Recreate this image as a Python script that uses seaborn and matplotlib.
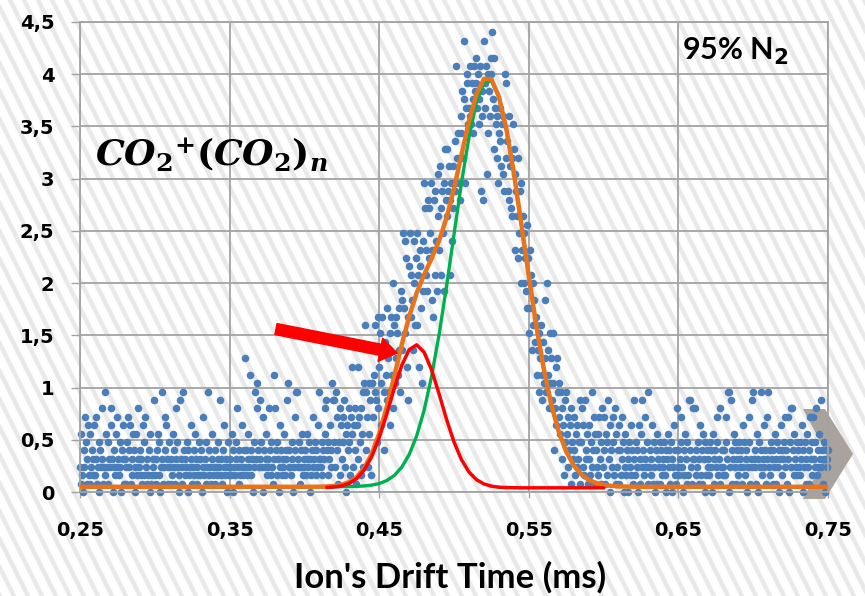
import numpy as np
import pandas as pd
import matplotlib
matplotlib.use("Agg")
import matplotlib.pyplot as plt
import seaborn as sns
from matplotlib.lines import Line2D
from matplotlib.patches import Polygon

# ---------------- data ----------------
# measured signal: one sample every 0.0005 ms from 0.25 ms, values quantised
# in steps of 0.08 (stored as integer step counts)
X_START = 0.25
X_STEP = 0.0005
LEVEL_STEP = 0.08

levels_left = [  # 0.250 .. 0.4195
    3, 1, 7, 2, 0, 5, 3, 9, 6, 1, 4, 8, 2, 7, 1, 3, 5, 2, 4, 8,
    2, 4, 9, 1, 3, 6, 0, 5, 3, 10, 4, 1, 3, 12, 2, 7, 3, 6, 1, 4,
    3, 8, 10, 4, 0, 3, 5, 2, 7, 3, 9, 4, 2, 6, 3, 0, 5, 8, 4, 1,
    4, 3, 1, 6, 9, 5, 3, 8, 1, 4, 2, 7, 5, 0, 3, 7, 2, 4, 10, 3,
    5, 2, 4, 1, 8, 6, 2, 9, 3, 1, 4, 2, 5, 0, 7, 1, 2, 4, 3, 11,
    2, 4, 1, 5, 7, 2, 6, 0, 3, 12, 4, 1, 3, 5, 9, 8, 4, 1, 3, 6,
    3, 1, 4, 2, 7, 3, 5, 1, 10, 4, 6, 3, 0, 2, 11, 4, 3, 1, 12, 5,
    2, 4, 3, 6, 0, 5, 2, 3, 8, 4, 1, 3, 5, 2, 7, 4, 1, 3, 2, 6,
    4, 2, 5, 0, 3, 9, 2, 4, 6, 1, 3, 12, 2, 5, 3, 1, 4, 7, 2, 3,
    1, 5, 3, 2, 4, 6, 3, 11, 2, 4, 1, 5, 3, 8, 2, 4, 0, 3, 6, 2,
    3, 4, 2, 7, 0, 5, 3, 2, 6, 4, 10, 3, 1, 5, 2, 4, 3, 8, 2, 5,
    16, 3, 5, 2, 4, 7, 3, 14, 2, 5, 4, 0, 6, 3, 12, 4, 13, 10, 5, 3,
    4, 11, 6, 3, 9, 0, 5, 3, 4, 7, 2, 4, 3, 10, 5, 2, 6, 3, 1, 4,
    14, 10, 5, 2, 6, 4, 0, 3, 8, 5, 2, 4, 3, 7, 2, 5, 4, 11, 13, 3,
    5, 3, 2, 6, 4, 0, 3, 9, 5, 12, 12, 4, 3, 6, 1, 5, 3, 7, 2, 4,
    3, 5, 2, 4, 7, 3, 6, 0, 4, 2, 5, 9, 3, 4, 6, 2, 5, 3, 8, 4,
    12, 4, 3, 6, 2, 5, 4, 7, 10, 11, 5, 2, 6, 4, 8, 3, 5, 13, 11, 6,
]

levels_peak = [  # 0.420 .. 0.5995
    11, 3, 12, 5, 9, 1, 6, 10, 2, 8,
    4, 9, 6, 11, 3, 7, 0, 8, 5, 10,
    6, 2, 9, 7, 15, 3, 8, 5, 10, 1,
    8, 15, 4, 9, 6, 2, 10, 7, 3, 12,
    13, 20, 5, 12, 9, 3, 13, 7, 11, 2,
    13, 13, 9, 14, 20, 12, 11, 6, 21, 10,
    15, 19, 8, 13, 21, 17, 12, 5, 18, 14,
    22, 11, 16, 12, 19, 8, 21, 14, 25, 10,
    20, 13, 16, 21, 19, 14, 22, 17, 12, 24,
    23, 17, 31, 22, 19, 30, 28, 15, 21, 11,
    27, 31, 21, 26, 23, 17, 30, 25, 20, 28,
    20, 31, 26, 15, 29, 27, 22, 13, 30, 24,
    37, 34, 26, 29, 24, 35, 28, 34, 31, 37,
    23, 29, 21, 35, 26, 36, 30, 24, 38, 33,
    29, 39, 34, 26, 36, 31, 37, 24, 41, 35,
    41, 33, 36, 39, 26, 35, 37, 30, 39, 34,
    37, 42, 36, 51, 40, 43, 37, 40, 35, 45,
    43, 48, 40, 47, 54, 37, 46, 49, 50, 44,
    46, 45, 51, 44, 49, 47, 43, 51, 48, 52,
    49, 46, 50, 44, 47, 51, 36, 45, 48, 35,
    54, 49, 46, 51, 38, 50, 43, 48, 45, 52,
    50, 55, 47, 52, 41, 46, 44, 40, 45, 37,
    43, 46, 42, 39, 44, 38, 45, 36, 50, 40,
    49, 42, 36, 45, 35, 39, 34, 40, 33, 44,
    41, 38, 29, 36, 33, 28, 40, 31, 36, 25,
    37, 29, 33, 25, 31, 28, 24, 32, 22, 28,
    19, 29, 22, 26, 17, 25, 20, 23, 18, 21,
    20, 14, 17, 19, 12, 16, 20, 11, 14, 18,
    13, 23, 16, 12, 25, 14, 17, 10, 19, 13,
    16, 11, 19, 13, 5, 10, 15, 8, 16, 12,
    9, 13, 7, 12, 4, 10, 8, 2, 11, 6,
    12, 7, 3, 9, 5, 8, 1, 10, 6, 4,
    9, 5, 2, 7, 3, 8, 4, 6, 1, 11,
    6, 10, 3, 8, 2, 11, 5, 4, 7, 1,
    4, 8, 2, 6, 12, 3, 5, 9, 1, 7,
    5, 3, 7, 2, 9, 4, 6, 1, 10, 3,
]

levels_right = [  # 0.600 .. 0.750
    5, 9, 1, 7, 2, 6, 11, 4, 8, 0, 5, 3, 9, 6, 2, 10, 1, 7, 3, 5,
    8, 1, 5, 2, 9, 4, 6, 0, 3, 7, 2, 5, 0, 4, 6, 3, 8, 2, 5, 1,
    11, 4, 2, 6, 3, 5, 0, 8, 4, 1, 7, 3, 11, 5, 2, 4, 9, 3, 6, 1,
    12, 3, 5, 2, 4, 8, 1, 6, 3, 0, 5, 1, 7, 4, 3, 6, 1, 5, 2, 4,
    3, 6, 2, 5, 0, 4, 7, 3, 5, 1, 6, 0, 4, 3, 8, 2, 5, 1, 10, 3,
    5, 2, 4, 6, 9, 3, 0, 5, 2, 7, 4, 1, 6, 2, 11, 5, 11, 3, 1, 4,
    10, 4, 10, 2, 5, 3, 6, 1, 4, 8, 2, 5, 1, 7, 4, 0, 6, 2, 5, 3,
    4, 2, 6, 3, 5, 0, 7, 4, 1, 5, 3, 6, 9, 2, 4, 1, 10, 3, 5, 2,
    3, 5, 2, 6, 9, 4, 12, 0, 12, 3, 11, 5, 1, 4, 7, 3, 6, 1, 5, 4,
    2, 6, 4, 3, 5, 1, 8, 3, 6, 2, 4, 5, 0, 3, 9, 6, 1, 4, 11, 3,
    12, 4, 3, 5, 1, 7, 4, 0, 6, 3, 12, 5, 2, 4, 8, 3, 5, 1, 9, 4,
    12, 3, 5, 2, 6, 4, 1, 5, 3, 7, 1, 4, 6, 3, 5, 0, 4, 8, 2, 5,
    4, 6, 9, 3, 5, 1, 9, 4, 0, 6, 10, 3, 10, 5, 2, 7, 4, 3, 6, 2,
    5, 3, 6, 2, 4, 8, 0, 5, 3, 6, 1, 4, 7, 3, 5, 1, 9, 4, 2, 6,
    9, 4, 3, 6, 10, 2, 5, 3, 7, 4, 11, 3, 5, 1, 6, 4, 0, 5, 3, 4,
    5,
]

# fitted curves
curve_x = [0.25,
           0.400, 0.405, 0.410, 0.415, 0.420, 0.425, 0.430, 0.435, 0.440, 0.445,
           0.450, 0.455, 0.460, 0.465, 0.470, 0.475, 0.480, 0.485, 0.490, 0.495,
           0.500, 0.505, 0.510, 0.515, 0.520, 0.525, 0.530, 0.535, 0.540, 0.545,
           0.550, 0.555, 0.560, 0.565, 0.570, 0.575, 0.580, 0.585, 0.590, 0.595,
           0.600, 0.605, 0.610, 0.615, 0.620, 0.625,
           0.75]
green_y = [0.050,
           0.050, 0.050, 0.050, 0.050, 0.050, 0.051, 0.052, 0.054, 0.058, 0.066,
           0.081, 0.109, 0.157, 0.236, 0.357, 0.535, 0.781, 1.105, 1.505, 1.968,
           2.466, 2.959, 3.397, 3.730, 3.918, 3.936, 3.781, 3.473, 3.052, 2.566,
           2.066, 1.593, 1.180, 0.840, 0.578, 0.387, 0.256, 0.170, 0.117, 0.086,
           0.068, 0.059, 0.054, 0.052, 0.051, 0.050,
           0.050]
orange_y = [0.050,
            0.050, 0.050, 0.051, 0.053, 0.058, 0.070, 0.095, 0.143, 0.229, 0.364,
            0.560, 0.813, 1.105, 1.406, 1.679, 1.904, 2.080, 2.235, 2.405, 2.625,
            2.905, 3.228, 3.548, 3.808, 3.955, 3.952, 3.787, 3.475, 3.053, 2.566,
            2.066, 1.593, 1.180, 0.840, 0.578, 0.387, 0.256, 0.170, 0.117, 0.086,
            0.068, 0.059, 0.054, 0.052, 0.051, 0.050,
            0.050]
red_x = [0.415, 0.420, 0.425, 0.430, 0.435, 0.440, 0.445, 0.450, 0.455, 0.460,
         0.465, 0.470, 0.475, 0.480, 0.485, 0.490, 0.495, 0.500, 0.505, 0.510,
         0.515, 0.520, 0.525, 0.530, 0.535, 0.540, 0.545, 0.550, 0.555, 0.560,
         0.565, 0.570, 0.575, 0.580, 0.585, 0.590, 0.595, 0.600]
red_y = [0.043, 0.048, 0.059, 0.083, 0.129, 0.211, 0.338, 0.519, 0.744, 0.988,
         1.210, 1.362, 1.409, 1.339, 1.170, 0.940, 0.697, 0.479, 0.309, 0.191,
         0.118, 0.077, 0.056, 0.046, 0.042, 0.041, 0.040, 0.040, 0.040, 0.040,
         0.040, 0.040, 0.040, 0.040, 0.040, 0.040, 0.040, 0.040]

x_ticks = [0.25, 0.35, 0.45, 0.55, 0.65, 0.75]
x_tick_labels = ["0,25", "0,35", "0,45", "0,55", "0,65", "0,75"]
y_ticks = [0, 0.5, 1, 1.5, 2, 2.5, 3, 3.5, 4, 4.5]
y_tick_labels = ["0", "0,5", "1", "1,5", "2", "2,5", "3", "3,5", "4", "4,5"]

x_label = "Ion's Drift Time (ms)"
species_label = r"${CO_2}^{+}(CO_2)_n$"
gas_label = r"95% N$_{\mathsf{2}}$"
arrow_tail = (0.381, 1.56)
arrow_tip = (0.462, 1.33)

# ---------------- style ----------------
sns.set_style("white")
plt.rcParams["font.family"] = ["DejaVu Sans"]
plt.rcParams["mathtext.fontset"] = "custom"
plt.rcParams["mathtext.it"] = "DejaVu Serif:italic:bold"
plt.rcParams["mathtext.rm"] = "DejaVu Serif:bold"
plt.rcParams["mathtext.sf"] = "DejaVu Sans:bold"

BLUE = "#4a7ebb"
ORANGE = "#e8731a"
GREEN = "#00b050"
RED = "#ff0000"
GRID = "#a3a3a3"

W, H = 865, 596
fig = plt.figure(figsize=(W / 100, H / 100), dpi=100)
fig.patch.set_facecolor("white")

# diagonal striped background
for x0 in np.arange(-H / 2 - 14, W + 14, 14):
    fig.add_artist(Line2D([x0 / W, (x0 + H / 2) / W], [1, 0],
                          transform=fig.transFigure, color="#e9e9e9",
                          lw=3.2, zorder=-10))

# grey chevron on the right
chev_px = [(803, 409), (825, 409), (853, 454), (825, 499), (803, 499), (827, 454)]
fig.add_artist(Polygon([(px / W, 1 - py / H) for px, py in chev_px],
                       closed=True, transform=fig.transFigure,
                       facecolor="#a9a29d", edgecolor="none", zorder=-5))

ax = fig.add_axes([80 / W, 1 - 492 / H, 748 / W, 470 / H])
ax.set_facecolor("none")

levels = levels_left + levels_peak + levels_right
df = pd.DataFrame({
    "t": X_START + X_STEP * np.arange(len(levels)),
    "v": np.array(levels) * LEVEL_STEP,
})

sns.scatterplot(data=df, x="t", y="v", ax=ax, color=BLUE, s=30,
                linewidth=0, zorder=2, clip_on=False, legend=False)
sns.lineplot(x=curve_x, y=green_y, ax=ax, color=GREEN, lw=2.4, zorder=3)
sns.lineplot(x=curve_x, y=orange_y, ax=ax, color=ORANGE, lw=3.2, zorder=4)
sns.lineplot(x=red_x, y=red_y, ax=ax, color=RED, lw=2.5, zorder=5)

ax.annotate("", xy=arrow_tip, xytext=arrow_tail,
            arrowprops=dict(arrowstyle="simple,head_length=0.95,head_width=1.3,tail_width=0.62",
                            mutation_scale=13, color=RED, shrinkA=0, shrinkB=0),
            zorder=6)

ax.set_xlim(0.25, 0.75)
ax.set_ylim(0, 4.5)
ax.set_xticks(x_ticks)
ax.set_xticklabels(x_tick_labels)
ax.set_yticks(y_ticks)
ax.set_yticklabels(y_tick_labels)
ax.grid(True, color=GRID, lw=1.3)
ax.set_axisbelow(True)
for s in ax.spines.values():
    s.set_visible(True)
    s.set_color(GRID)
    s.set_linewidth(1.3)
ax.tick_params(axis="y", left=True, length=6.5, width=1, color=GRID, pad=12,
               direction="out", labelsize=14)
ax.tick_params(axis="x", bottom=True, length=4, width=1, color=GRID, pad=17,
               direction="out", labelsize=14)
for lab in ax.get_xticklabels() + ax.get_yticklabels():
    lab.set_fontweight("bold")
    lab.set_color("black")

ax.set_ylabel("")
ax.set_xlabel(x_label, fontsize=25, fontweight="bold",
              family=["Lato", "DejaVu Sans"], color="black")
ax.xaxis.set_label_coords((450 - 80) / 748, -(588 - 492) / 470)
ax.xaxis.label.set_va("baseline")

ax.text(0.260, 3.13, species_label, fontsize=26, ha="left", va="baseline",
        color="black", zorder=7)
ax.text(0.6527, 4.134, gas_label, fontsize=22, fontweight="bold",
        family=["Lato", "DejaVu Sans"], ha="left", va="baseline",
        color="black", zorder=7)

fig.savefig("out.png", dpi=100)
